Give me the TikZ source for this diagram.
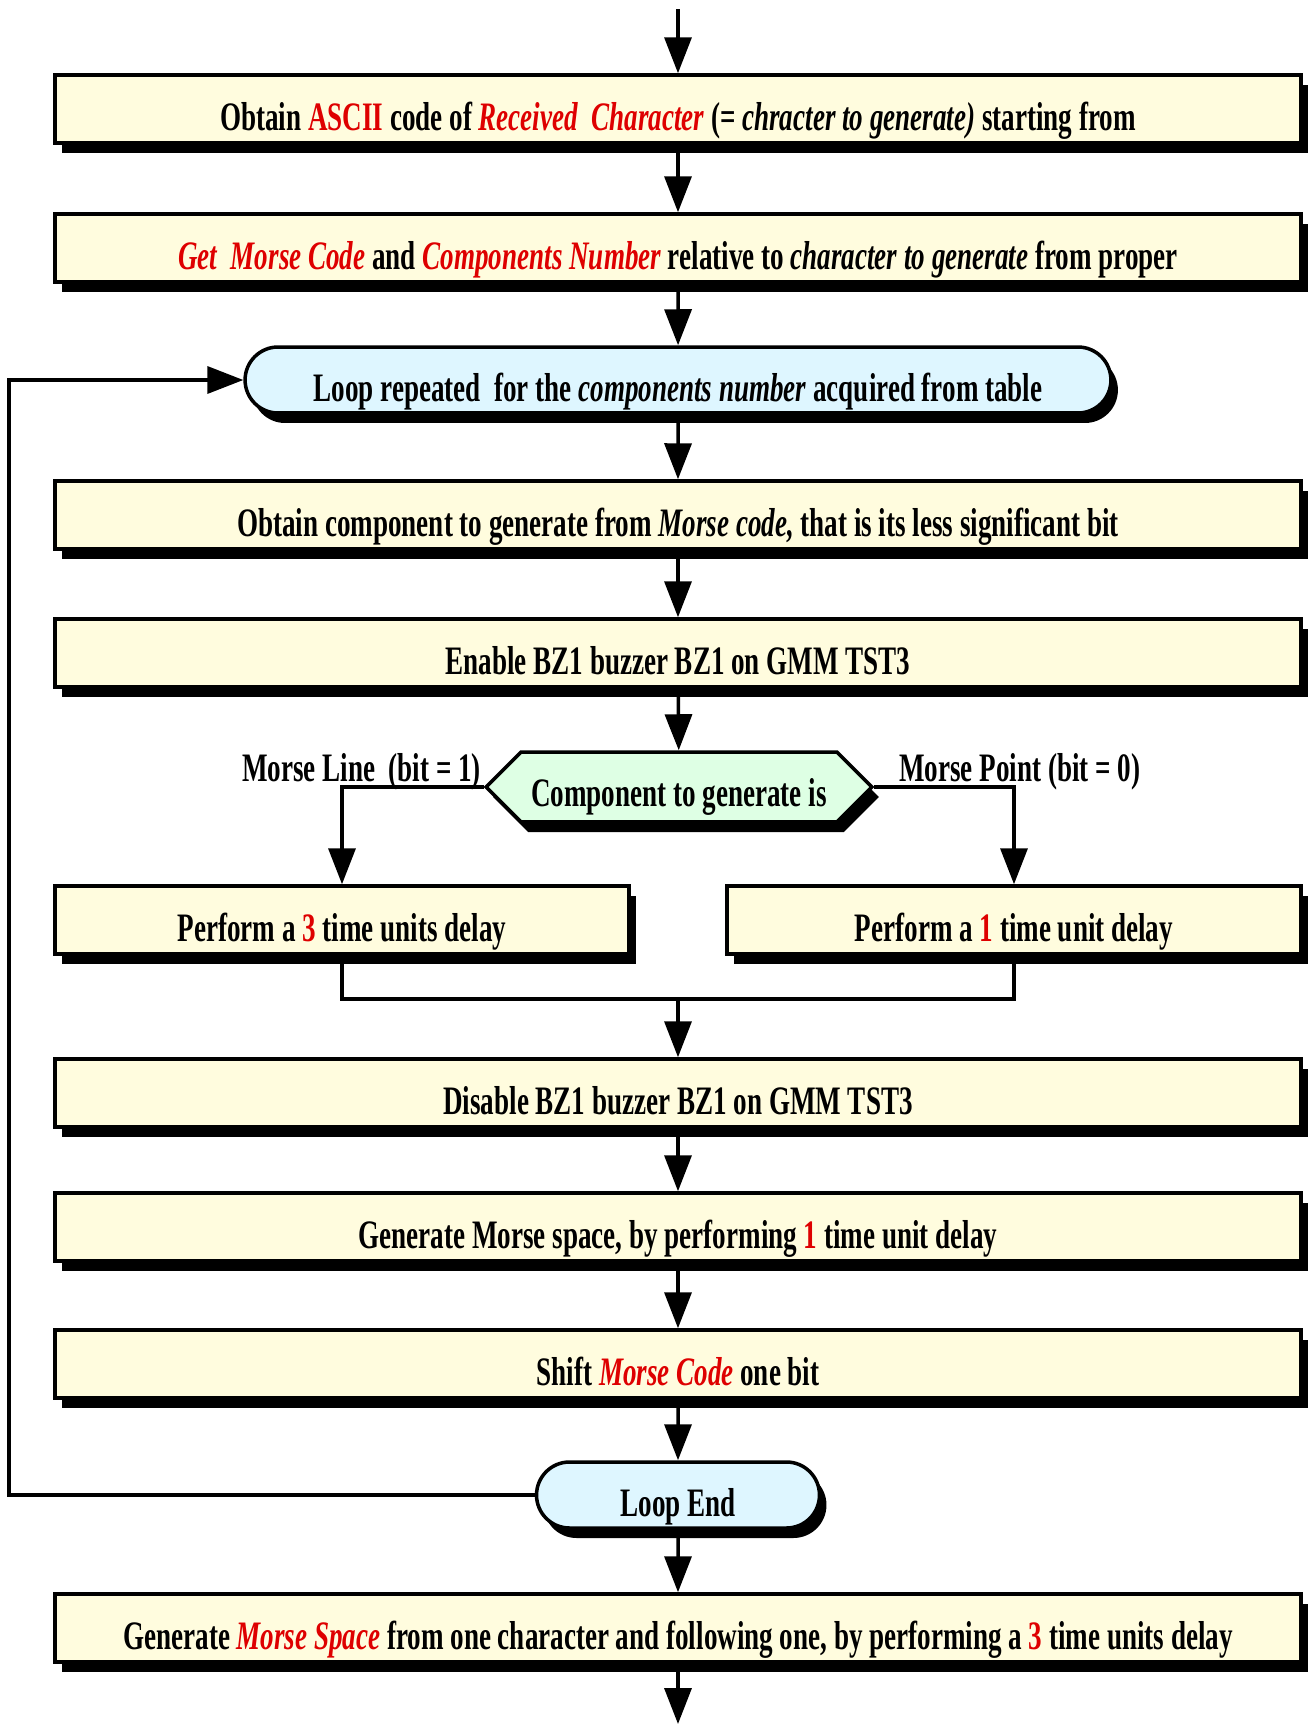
\documentclass[tikz,border=0pt]{standalone}
\usepackage{fontspec}
\newfontfamily\flowfont[FakeStretch=0.67]{Liberation Serif}
\usetikzlibrary{arrows.meta,shapes.misc,shapes.symbols,shadows}
\definecolor{boxfill}{RGB}{255,252,222}
\definecolor{loopfill}{RGB}{222,246,255}
\definecolor{hexfill}{RGB}{222,255,228}
\definecolor{txtred}{RGB}{222,0,0}
\newcommand{\rd}[1]{\textcolor{txtred}{#1}}
\tikzset{
  flowshadow/.style={drop shadow={shadow xshift=0.14cm,shadow yshift=-0.2cm,opacity=1,fill=black}},
  stepbox/.style={draw,line width=2pt,fill=boxfill,flowshadow,inner sep=0pt,
    text height=24pt,text depth=0pt,minimum width=24.92cm,minimum height=1.36cm},
  halfbox/.style={stepbox,minimum width=11.48cm},
  loopbox/.style={rounded rectangle,draw,line width=2pt,fill=loopfill,flowshadow,
    inner sep=0pt,text height=24pt,text depth=0pt,minimum height=1.32cm},
  testbox/.style={signal,signal to=west and east,signal pointer angle=90,draw,
    line width=2pt,fill=hexfill,flowshadow,inner sep=0pt,text height=22pt,text depth=0pt,
    minimum width=7.72cm,minimum height=1.4cm},
  arr/.style={line width=2pt,-{Triangle[length=0.72cm,width=0.54cm]}},
  ln/.style={line width=2pt}
}
\begin{document}
\begin{tikzpicture}[x=0.02cm,y=-0.02cm,font=\flowfont\bfseries\fontsize{23}{27}\selectfont]
  \useasboundingbox (0,0) rectangle (1311,1724);
  \node[stepbox] (obtain) at (678,109) {Obtain \rd{ASCII} code of \rd{\itshape Received\ \ Character} (= \textit{chracter to generate)} starting from};
  \node[stepbox] (get) at (678,248) {\rd{\itshape Get\ \ Morse Code} and \rd{\itshape Components Number} relative to \textit{character to generate} from proper};
  \node[loopbox,minimum width=17.32cm] (loop) at (678,380) {Loop repeated\ \ for the \textit{components number} acquired from table};
  \node[stepbox] (comp) at (678,515) {Obtain component to generate from \textit{Morse code,} that is its less significant bit};
  \node[stepbox] (enable) at (678,653) {Enable BZ1 buzzer BZ1 on GMM TST3};
  \node[testbox] (test) at (679,787) {Component to generate is};
  \node[anchor=base east] (linelbl) at (487,781) {Morse Line\ \ (bit = 1)};
  \node[anchor=base west] (pointlbl) at (893,781) {Morse Point (bit = 0)};
  \node[halfbox] (three) at (342,920) {Perform a \rd{3} time units delay};
  \node[halfbox] (one) at (1014,920) {Perform a \rd{1} time unit delay};
  \node[stepbox] (disable) at (678,1093) {Disable BZ1 buzzer BZ1 on GMM TST3};
  \node[stepbox] (space) at (678,1227) {Generate Morse space, by performing \rd{1} time unit delay};
  \node[stepbox] (shift) at (678,1364) {Shift \rd{\itshape Morse Code} one bit};
  \node[loopbox,minimum width=5.66cm] (loopend) at (678,1495) {Loop End};
  \node[stepbox] (charspace) at (678,1628) {Generate \rd{\itshape Morse Space} from one character and following one, by performing a \rd{3} time units delay};
  \coordinate (start) at (678,9);
  \coordinate (finish) at (678,1724);
  \coordinate (merge) at (678,999);
  \coordinate (back) at (9,0);
  \draw[arr] (start) -- (obtain);
  \draw[arr] (obtain) -- (get);
  \draw[arr] (get) -- (loop);
  \draw[arr] (loop) -- (comp);
  \draw[arr] (comp) -- (enable);
  \draw[arr] (enable) -- (test);
  \draw[arr] (test.west) -| (three.north);
  \draw[arr] (test.east) -| (one.north);
  \draw[ln] (three.south) |- (merge) -| (one.south);
  \draw[arr] (merge) -- (disable);
  \draw[arr] (disable) -- (space);
  \draw[arr] (space) -- (shift);
  \draw[arr] (shift) -- (loopend);
  \draw[arr] (loopend) -- (charspace);
  \draw[arr] (charspace) -- (finish);
  \draw[arr] (loopend.west) -- (loopend.west -| back) |- (loop.west);
\end{tikzpicture}
\end{document}
